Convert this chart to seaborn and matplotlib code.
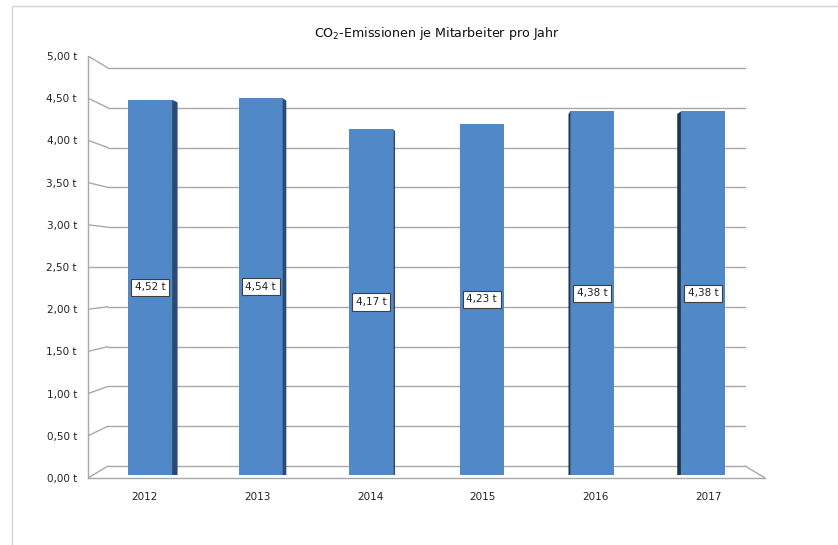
import numpy as np
import pandas as pd
import matplotlib
matplotlib.use("Agg")
import matplotlib.pyplot as plt
from matplotlib.patches import Polygon, Rectangle
import seaborn as sns

# ---------------------------------------------------------------------------
# Daten
# ---------------------------------------------------------------------------
jahre = ["2012", "2013", "2014", "2015", "2016", "2017"]
emissionen = [4.52, 4.54, 4.17, 4.23, 4.38, 4.38]
y_werte = [0.0, 0.5, 1.0, 1.5, 2.0, 2.5, 3.0, 3.5, 4.0, 4.5, 5.0]

FACE = "#5189C8"
SIDE_R = "#2B4B74"
SIDE_L = "#1E3550"
GRID = "#A8A8A8"

sns.set_style("white")
plt.rcParams["font.family"] = ["DejaVu Sans"]

W, H = 838, 545
fig = plt.figure(figsize=(W / 100, H / 100), dpi=100)

# Pseudo-3D: Säulen-Ebene (Basis 475 px, 83 px/t), Vorderachse und Rückwand
def front(v):
    return (-3 + 84.4 * v) / 83.0

def back(v):
    return (9 + 79.6 * v) / 83.0

y_lo, y_hi = front(0), front(5)
px_lo, px_hi = 478, 56
ax = fig.add_axes([88 / W, 1 - px_lo / H, (765 - 88) / W, (px_lo - px_hi) / H])
ax.set_facecolor("none")

df = pd.DataFrame({"Jahr": jahre, "CO2": emissionen})
sns.barplot(data=df, x="Jahr", y="CO2", color=FACE, width=0.39,
            saturation=1, linewidth=0, ax=ax, zorder=3)
ax.set_xlim(-0.5, 5.5)
ax.set_ylim(y_lo, y_hi)

# Rückwand-Gitter mit schrägen Verbindungen zur Achse
bx0, bx1 = -0.5 + 20 / 112.8, -0.5 + 657 / 112.8
for v in y_werte:
    ax.plot([bx0, bx1], [back(v), back(v)], color=GRID, lw=1, zorder=1)
    ax.plot([-0.5, bx0], [front(v), back(v)], color=GRID, lw=1, zorder=1)
ax.plot([bx1, 5.5], [back(0), front(0)], color=GRID, lw=1, zorder=1)

# Perspektive: Säulen leicht zur Mitte gerückt, Seitenflächen + Beschriftung
for patch, val in zip(ax.patches, emissionen):
    bw = patch.get_width()
    xc = patch.get_x() + bw / 2
    xc = 2.5 + (xc - 2.5) * 0.98
    patch.set_x(xc - bw / 2)
    x0 = patch.get_x()
    sw = 0.0186 * (2.98 - xc) * 0.9
    edge = x0 + bw if sw > 0 else x0
    col = SIDE_R if sw > 0 else SIDE_L
    h = patch.get_height()
    poly = Polygon([(edge, 0), (edge, h), (edge + sw, h - 0.03), (edge + sw, 0)],
                   closed=True, facecolor=col, edgecolor="none", zorder=3)
    ax.add_patch(poly)
    ax.text(xc, val / 2, f"{val:.2f} t".replace(".", ","), ha="center", va="center",
            fontsize=7.5, color="#222222", zorder=5,
            bbox=dict(boxstyle="square,pad=0.35", fc="white", ec="#404040", lw=0.8))

# Achsen
ax.set_yticks([front(v) for v in y_werte])
ax.set_yticklabels([f"{v:.2f} t".replace(".", ",") for v in y_werte], fontsize=7.5,
                   color="#222222")
ax.set_xticks(range(len(jahre)))
ax.set_xticklabels(jahre, fontsize=7.5, color="#222222")
ax.set_xticks(np.arange(-0.5, 6, 1), minor=True)
ax.tick_params(axis="x", which="major", length=0, pad=10)
ax.tick_params(axis="x", which="minor", length=5, color=GRID, direction="out")
ax.tick_params(axis="y", length=5, color=GRID, direction="out", pad=3)
ax.set_xlabel("")
ax.set_ylabel("")
for s in ["top", "right"]:
    ax.spines[s].set_visible(False)
for s in ["left", "bottom"]:
    ax.spines[s].set_color(GRID)
    ax.spines[s].set_linewidth(1)
ax.spines["left"].set_zorder(2)

fig.text(437 / W, 1 - 33 / H, "CO$_2$-Emissionen je Mitarbeiter pro Jahr",
         ha="center", va="center", fontsize=9.1, color="#111111")

# Rahmen des Diagramms
fig.patches.append(Rectangle((12 / W, -0.01), 1.0, 1 - 6 / H + 0.01,
                             transform=fig.transFigure, fill=False,
                             edgecolor="#D4D4D4", lw=1))

fig.savefig("out.png", dpi=100)
